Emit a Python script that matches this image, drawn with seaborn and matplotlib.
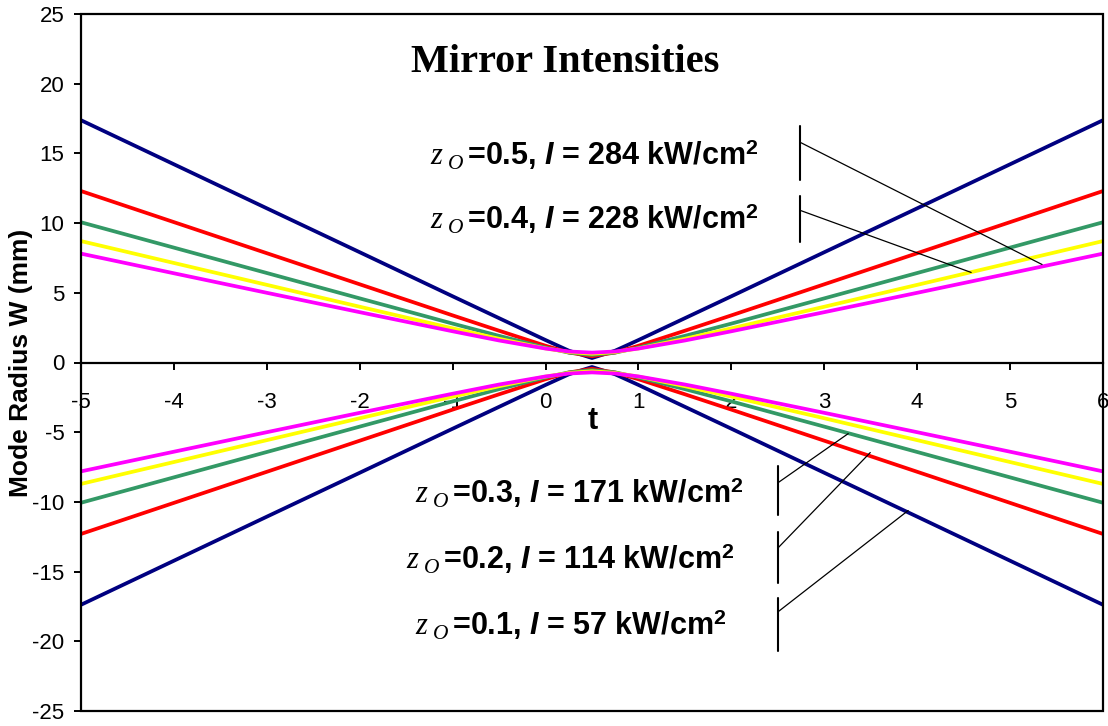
import numpy as np
import pandas as pd
import matplotlib
matplotlib.use("Agg")
import matplotlib.pyplot as plt
import seaborn as sns

# Position along the resonator axis
t = [-5, -4, -3, -2, -1, -0.5, 0, 0.25, 0.5, 0.75, 1, 1.5, 2, 3, 4, 5, 6]

# Mode radius W (mm) for each Rayleigh range z_o
w_zo_01 = [17.38, 14.22, 11.06, 7.91, 4.75, 3.18, 1.61, 0.85, 0.32, 0.85, 1.61, 3.18, 4.75, 7.91, 11.06, 14.22, 17.38]
w_zo_02 = [12.30, 10.07, 7.84, 5.61, 3.38, 2.28, 1.20, 0.72, 0.45, 0.72, 1.20, 2.28, 3.38, 5.61, 7.84, 10.07, 12.30]
w_zo_03 = [10.06, 8.24, 6.42, 4.60, 2.79, 1.91, 1.07, 0.71, 0.55, 0.71, 1.07, 1.91, 2.79, 4.60, 6.42, 8.24, 10.06]
w_zo_04 = [8.71, 7.14, 5.57, 4.00, 2.45, 1.70, 1.01, 0.75, 0.63, 0.75, 1.01, 1.70, 2.45, 4.00, 5.57, 7.14, 8.71]
w_zo_05 = [7.81, 6.40, 5.00, 3.61, 2.24, 1.58, 1.00, 0.79, 0.71, 0.79, 1.00, 1.58, 2.24, 3.61, 5.00, 6.40, 7.81]

zo_values = [0.1, 0.2, 0.3, 0.4, 0.5]
intensities = [57, 114, 171, 228, 284]
colors = ["#000080", "#FF0000", "#339966", "#FFFF00", "#FF00FF"]

x_ticks = [-5, -4, -3, -2, -1, 0, 1, 2, 3, 4, 5, 6]
y_ticks = [-25, -20, -15, -10, -5, 0, 5, 10, 15, 20, 25]

series = [w_zo_01, w_zo_02, w_zo_03, w_zo_04, w_zo_05]
rows = []
for zo, w in zip(zo_values, series):
    for ti, wi in zip(t, w):
        rows.append({"t": ti, "W": wi, "zo": zo, "branch": "upper"})
        rows.append({"t": ti, "W": -wi, "zo": zo, "branch": "lower"})
df = pd.DataFrame(rows)

sns.set_theme(style="white")
plt.rcParams["font.family"] = ["Liberation Sans", "DejaVu Sans"]
plt.rcParams["text.color"] = "black"
plt.rcParams["axes.labelcolor"] = "black"
plt.rcParams["mathtext.fontset"] = "custom"
plt.rcParams["mathtext.it"] = "Liberation Serif:italic"
plt.rcParams["mathtext.rm"] = "Liberation Sans:bold"
plt.rcParams["mathtext.bf"] = "Liberation Sans:bold"
plt.rcParams["mathtext.bfit"] = "Liberation Sans:bold:italic"

fig = plt.figure(figsize=(11.08, 7.26), dpi=100)
ax = fig.add_axes([81 / 1108, 15 / 726, 1022 / 1108, 697 / 726])

sns.lineplot(data=df, x="t", y="W", hue="zo", units="branch", estimator=None,
             hue_order=zo_values, palette=colors, sort=False, legend=False,
             linewidth=2.7, ax=ax)

ax.set_xlim(-5, 6)
ax.set_ylim(-25, 25)
ax.set_xticks(x_ticks)
ax.set_yticks(y_ticks)
ax.set_xticklabels([str(v) for v in x_ticks])
ax.set_yticklabels([str(v) for v in y_ticks])

# x axis runs through W = 0, with a full frame around the plot
for side in ["top", "right", "left"]:
    ax.spines[side].set_visible(False)
ax.spines["bottom"].set_position(("data", 0))
ax.spines["bottom"].set_linewidth(1.6)
ax.spines["bottom"].set_color("black")
ax.add_patch(plt.Rectangle((0, 0), 1, 1, transform=ax.transAxes, fill=False,
                           edgecolor="black", linewidth=1.6, clip_on=False, zorder=5))

ax.tick_params(axis="x", direction="out", length=5, width=1.4, colors="black",
               labelcolor="black", labelsize=16, pad=16, bottom=True)
ax.tick_params(axis="y", direction="out", length=5, width=1.4, colors="black",
               labelcolor="black", labelsize=16, pad=7, left=True)

ax.set_xlabel("t", fontsize=22, fontweight="bold", color="black")
ax.xaxis.set_label_coords(0.501, 0.438)
ax.set_ylabel("Mode Radius W (mm)", fontsize=19, fontweight="bold", color="black")
ax.yaxis.set_label_coords(-0.047, 0.5)

fig.text(565 / 1108, 1 - 62 / 726, "Mirror Intensities", fontsize=29,
         fontweight="bold", family=["Liberation Serif"], ha="center", va="center",
         color="black")

# Labels with leader lines
label_pos = {0.5: (-1.247, 14.2), 0.4: (-1.247, 9.55), 0.3: (-1.40, -10.05),
             0.2: (-1.505, -14.79), 0.1: (-1.40, -19.53)}
bars = {0.5: (2.742, 16.94, 13.07, 15.79, 5.344, 7.03),
        0.4: (2.742, 11.92, 8.61, 10.91, 4.581, 6.46),
        0.3: (2.505, -7.39, -10.91, -8.61, 3.258, -5.10),
        0.2: (2.505, -12.13, -15.79, -13.28, 3.495, -6.46),
        0.1: (2.505, -16.87, -20.67, -17.87, 3.903, -10.62)}
for zo, inten in zip(zo_values, intensities):
    lx, ly = label_pos[zo]
    ax.text(lx, ly, r"$z_{\ O}\,$" + f"={zo}, " + r"$\mathbfit{I}$" + f" = {inten} kW/cm" + r"$^{\mathbf{2}}$",
            fontsize=22, fontweight="bold", ha="left", va="baseline", color="black")
    bx, y0, y1, sy, ex, ey = bars[zo]
    ax.plot([bx, bx], [y0, y1], color="black", linewidth=1.5)
    ax.plot([bx, ex], [sy, ey], color="black", linewidth=0.9)

fig.savefig("out.png", dpi=100)
